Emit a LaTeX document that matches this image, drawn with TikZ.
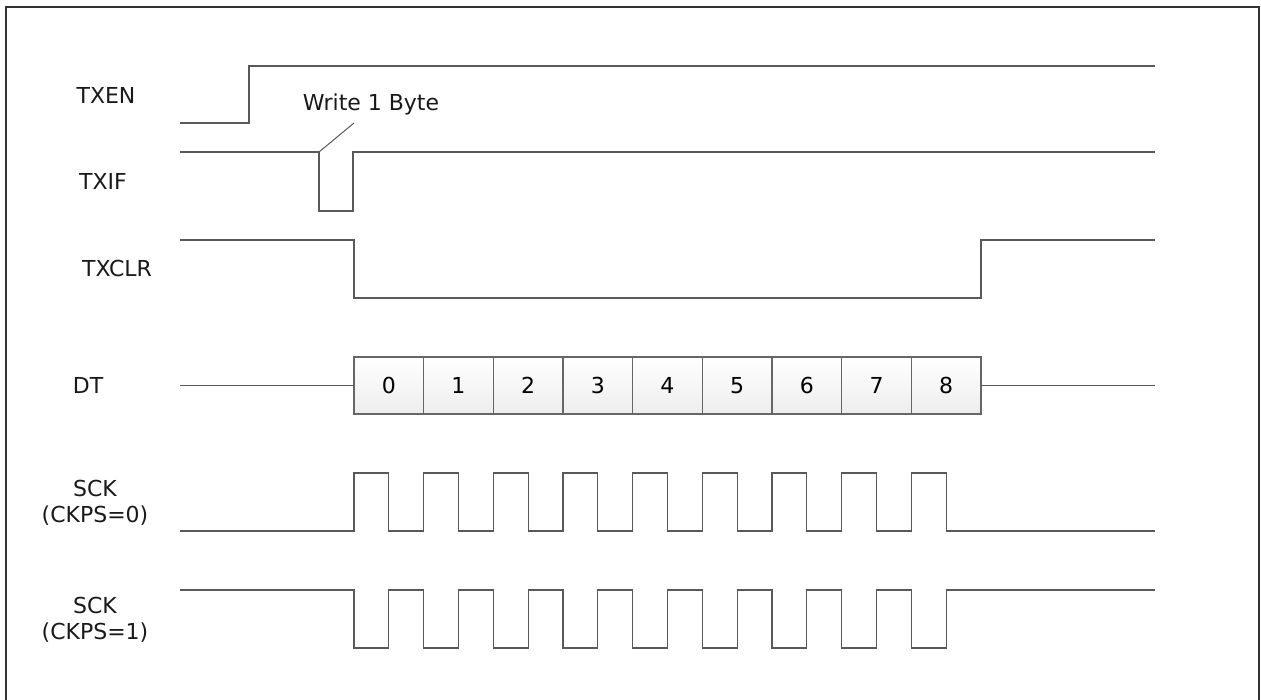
\documentclass[tikz,border=0pt]{standalone}
\usepackage{fontspec}
\setmainfont{DejaVu Sans}
\usetikzlibrary{positioning}

\begin{document}
\begin{tikzpicture}[x=1pt,y=-1pt,
  sig/.style={draw=black!65,line width=1.2pt},
  name node/.style={font=\fontsize{22}{26}\selectfont,align=center,text=black!90},
  cell/.style={draw=black!60,line width=1.2pt,top color=white,bottom color=black!7,
    minimum width=69.67pt,minimum height=57pt,inner sep=0pt,outer sep=0pt,
    font=\fontsize{22}{26}\selectfont}]

  \useasboundingbox (0,0) rectangle (1261,699);
  \draw[black!80,line width=1.5pt] (6,705) -- (6,7) -- (1259,7) -- (1259,705);

  % signal names
  \node[name node] (txen)  at (106,95)  {TXEN};
  \node[name node] (txif)  at (103,181) {TXIF};
  \node[name node] (txclr) at (117,268) {TXCLR};
  \node[name node] (dt)    at (88,385)  {DT};
  \node[name node] (sck0)  at (95,503)  {SCK\\(CKPS=0)};
  \node[name node] (sck1)  at (95,620)  {SCK\\(CKPS=1)};
  \node[name node] (wb)    at (371,104) {Write 1 Byte};

  % data cells
  \node[cell] (b0) at (388.8,385.5) {0};
  \node[cell, right=0pt of b0] (b1) {1};
  \node[cell, right=0pt of b1] (b2) {2};
  \node[cell, right=0pt of b2] (b3) {3};
  \node[cell, right=0pt of b3] (b4) {4};
  \node[cell, right=0pt of b4] (b5) {5};
  \node[cell, right=0pt of b5] (b6) {6};
  \node[cell, right=0pt of b6] (b7) {7};
  \node[cell, right=0pt of b7] (b8) {8};

  \coordinate (dtin)  at (180,385.5);
  \coordinate (dtout) at (1155,385.5);
  \coordinate (wrpt)  at (319,152);
  \coordinate (wrtip) at (354,123);

  % waveforms
  \draw[sig] (180,123) -- (249,123) -- (249,66) -- (1155,66);
  \draw[sig] (180,152) -- (wrpt) -- (319,211) -- (353,211) -- (353,152) -- (1155,152);
  \draw[sig] (180,240) -- (354,240) -- (354,298) -- (981,298) -- (981,240) -- (1155,240);
  \draw[sig] (dtin) -- (b0.west);
  \draw[sig] (b8.east) -- (dtout);
  \draw[sig] (180,531) -- (354,531)
    \foreach \k in {0,...,8} { -- ++(0,-58) -- ++(34.83,0) -- ++(0,58) -- ++(34.83,0) }
    -- (1155,531);
  \draw[sig] (180,590) -- (354,590)
    \foreach \k in {0,...,8} { -- ++(0,58) -- ++(34.83,0) -- ++(0,-58) -- ++(34.83,0) }
    -- (1155,590);

  % write marker
  \draw[sig,line width=1pt] (wrpt) -- (wrtip);
\end{tikzpicture}
\end{document}
